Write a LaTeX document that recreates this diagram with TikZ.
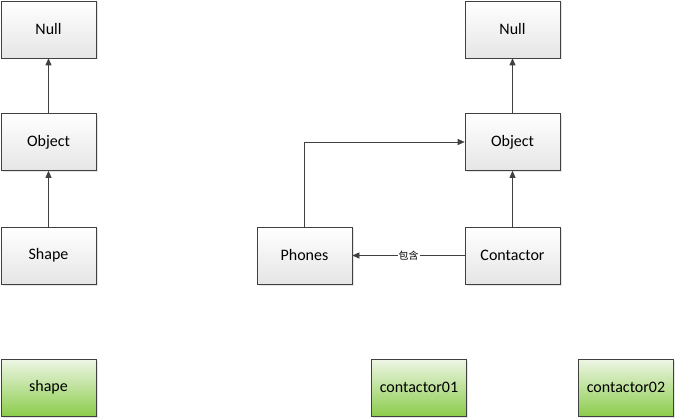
\documentclass[tikz,border=0pt]{standalone}
\usepackage{fontspec}
\setmainfont{Carlito}
\newfontfamily\cjk{Noto Sans CJK SC}
\usetikzlibrary{arrows.meta,shadows,positioning}
\begin{document}
\begin{tikzpicture}[x=1pt,y=-1pt,
  box/.style={draw=black!75, line width=0.6pt, minimum width=95pt, minimum height=57pt, inner sep=0pt,
    top color=white, bottom color=black!10, font=\fontsize{16}{19}\selectfont,
    drop shadow={shadow xshift=1.5pt, shadow yshift=-1.5pt, opacity=0.25, fill=black!40}},
  gbox/.style={box, top color={rgb,255:red,238;green,246;blue,230}, bottom color={rgb,255:red,140;green,204;blue,76}},
  arr/.style={draw=black!75, line width=0.6pt, -{Triangle[length=7pt,width=6pt]}}]
\useasboundingbox (0,0) rectangle (676,419);
\node[box] (null1) at (48.5,29.5) {Null};
\node[box] (obj1) at (48.5,142) {Object};
\node[box] (shape1) at (48.5,255.5) {Shape};
\node[box] (null2) at (512.5,29.5) {Null};
\node[box] (obj2) at (512.5,142) {Object};
\node[box] (phones) at (304.5,255.5) {Phones};
\node[box] (cont) at (512.5,255.5) {Contactor};
\node[gbox] (shape) at (48.5,387.5) {shape};
\node[gbox] (c01) at (419,387.5) {contactor01};
\node[gbox] (c02) at (626,387.5) {contactor02};
\draw[arr] (obj1) -- (null1);
\draw[arr] (shape1) -- (obj1);
\draw[arr] (obj2) -- (null2);
\draw[arr] (cont) -- (obj2);
\draw[arr] (phones.north) |- (obj2.west);
\draw[arr] (cont) -- node[fill=white, inner sep=1pt, font=\cjk\fontsize{10}{12}\selectfont] {包含} (phones);
\end{tikzpicture}
\end{document}
